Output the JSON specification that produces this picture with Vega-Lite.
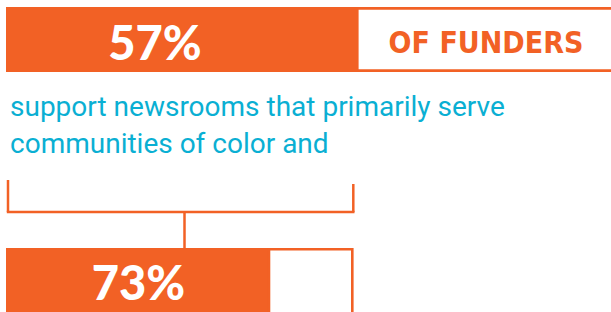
{
  "$schema": "https://vega.github.io/schema/vega-lite/v6.json",
  "width": 611,
  "height": 312,
  "padding": 0,
  "autosize": {"type": "fit", "contains": "padding"},
  "background": "white",
  "config": {"view": {"stroke": null}},
  "datasets": {
    "bars": [
      {"bar": "top", "x0": 6, "x1": 356, "y0": 7, "y1": 72},
      {"bar": "bottom", "x0": 6, "x1": 268, "y0": 248, "y1": 312}
    ],
    "boxes": [
      {"bar": "top", "x0": 357.3, "x1": 625, "y0": 8.4, "y1": 70.6},
      {"bar": "bottom", "x0": 269, "x1": 352.3, "y0": 249.3, "y1": 318}
    ],
    "bracket": [
      {"part": "left", "x0": 8, "x1": 8, "y0": 180, "y1": 212},
      {"part": "base", "x0": 6.8, "x1": 354.5, "y0": 212, "y1": 212},
      {"part": "right", "x0": 353.3, "x1": 353.3, "y0": 184, "y1": 212},
      {"part": "stem", "x0": 184.5, "x1": 184.5, "y0": 212, "y1": 249}
    ],
    "pct": [
      {"label": "57%", "x": 155, "y": 60},
      {"label": "73%", "x": 138.5, "y": 300}
    ],
    "head": [
      {"label": "OF FUNDERS", "x": 486, "y": 53}
    ],
    "desc": [
      {"label": "support newsrooms that primarily serve", "x": 10, "y": 116},
      {"label": "communities of color and", "x": 10, "y": 153}
    ]
  },
  "encoding": {},
  "layer": [
    {
      "data": {"name": "bars"},
      "mark": {"type": "rect", "fill": "#F26125", "clip": true},
      "encoding": {
        "x": {"field": "x0", "type": "quantitative", "scale": {"domain": [0, 611], "nice": false, "zero": false}, "axis": null},
        "x2": {"field": "x1"},
        "y": {"field": "y0", "type": "quantitative", "scale": {"domain": [0, 312], "nice": false, "zero": false, "reverse": true}, "axis": null},
        "y2": {"field": "y1"}
      }
    },
    {
      "data": {"name": "boxes"},
      "mark": {"type": "rect", "fill": "white", "stroke": "#F26125", "strokeWidth": 2.6, "clip": true},
      "encoding": {
        "x": {"field": "x0", "type": "quantitative", "axis": null},
        "x2": {"field": "x1"},
        "y": {"field": "y0", "type": "quantitative", "axis": null},
        "y2": {"field": "y1"}
      }
    },
    {
      "data": {"name": "bracket"},
      "mark": {"type": "rule", "stroke": "#F26125", "strokeWidth": 2.5},
      "encoding": {
        "x": {"field": "x0", "type": "quantitative", "axis": null},
        "x2": {"field": "x1"},
        "y": {"field": "y0", "type": "quantitative", "axis": null},
        "y2": {"field": "y1"}
      }
    },
    {
      "data": {"name": "pct"},
      "mark": {"type": "text", "font": "Lato", "fontWeight": 900, "fontSize": 47, "fill": "white", "align": "center", "baseline": "alphabetic"},
      "encoding": {
        "x": {"field": "x", "type": "quantitative", "axis": null},
        "y": {"field": "y", "type": "quantitative", "axis": null},
        "text": {"field": "label"}
      }
    },
    {
      "data": {"name": "head"},
      "mark": {"type": "text", "font": "DejaVu Sans Condensed", "fontWeight": "bold", "fontSize": 30, "fill": "#F26125", "align": "center", "baseline": "alphabetic"},
      "encoding": {
        "x": {"field": "x", "type": "quantitative", "axis": null},
        "y": {"field": "y", "type": "quantitative", "axis": null},
        "text": {"field": "label"}
      }
    },
    {
      "data": {"name": "desc"},
      "mark": {"type": "text", "font": "Roboto", "fontSize": 28, "fill": "#0AAFD3", "align": "left", "baseline": "alphabetic"},
      "encoding": {
        "x": {"field": "x", "type": "quantitative", "axis": null},
        "y": {"field": "y", "type": "quantitative", "axis": null},
        "text": {"field": "label"}
      }
    }
  ]
}
